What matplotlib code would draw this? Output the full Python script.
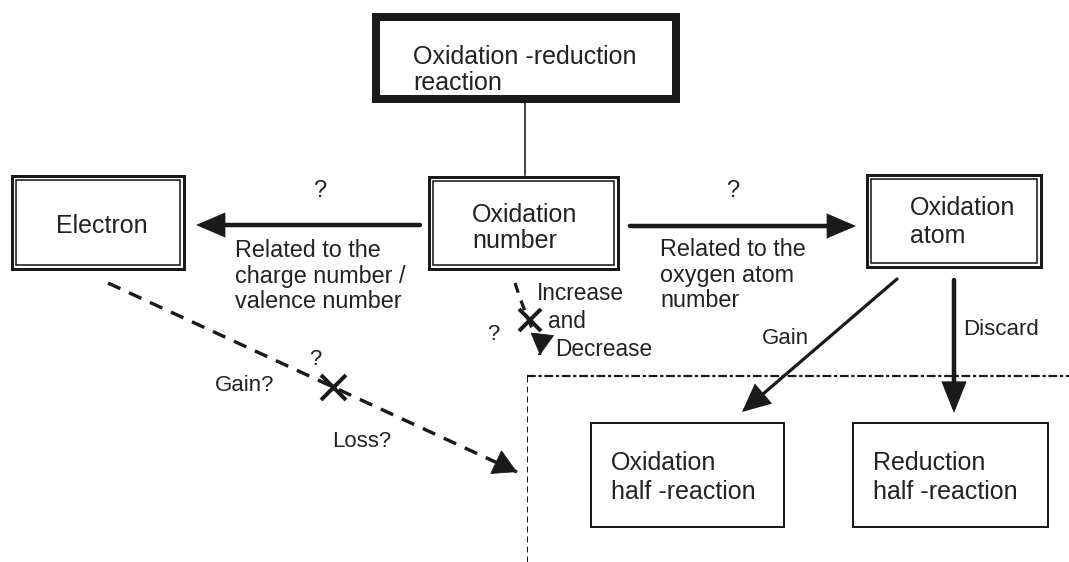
import matplotlib
matplotlib.use('Agg')
import matplotlib.pyplot as plt
from matplotlib.patches import Rectangle, FancyArrowPatch, PathPatch
from matplotlib.path import Path

# ---- content ----
top_label = ["Oxidation -reduction", "reaction"]
center_label = ["Oxidation", "number"]
left_label = ["Electron"]
right_label = ["Oxidation", "atom"]
ox_half_label = ["Oxidation", "half -reaction"]
red_half_label = ["Reduction", "half -reaction"]
left_edge_label = ["Related to the", "charge number /", "valence number"]
right_edge_label = ["Related to the", "oxygen atom", "number"]
change_label = ["Increase", "and", "Decrease"]
gain_q, loss_q = "Gain?", "Loss?"
question = "?"
gain_label = "Gain"
discard_label = "Discard"

W, H = 1069, 562
PX = 0.72  # points per pixel at dpi 100
FONT = "Liberation Sans"
INK = '#1a1a1a'

fig = plt.figure(figsize=(W / 100, H / 100), dpi=100)
ax = fig.add_axes([0, 0, 1, 1])
ax.set_xlim(0, W)
ax.set_ylim(H, 0)
ax.axis('off')


def txt(x, y, s, size=18, ha='left'):
    ax.text(x, y, s, fontsize=size, family=FONT, color='#222222', ha=ha, va='baseline')


def lines(x, ys, labels, size=18, ha='left'):
    for y, s in zip(ys, labels):
        txt(x, y, s, size, ha)


def rect(x0, y0, x1, y1, lw_px, inset):
    ax.add_patch(Rectangle((x0 + inset, y0 + inset), x1 - x0 - 2 * inset, y1 - y0 - 2 * inset,
                           fill=False, lw=lw_px * PX, ec=INK, joinstyle='miter'))


def double_box(x0, y0, x1, y1):
    rect(x0, y0, x1, y1, 3.0, 1.5)
    rect(x0, y0, x1, y1, 1.6, 5.5)


def arrow(p0, p1, lw_px, hl=1.0, hw=0.5, ms=20):
    a = FancyArrowPatch(p0, p1, arrowstyle=f'-|>,head_length={hl},head_width={hw}',
                        mutation_scale=ms, lw=lw_px * PX, color=INK,
                        shrinkA=0, shrinkB=0, joinstyle='miter')
    ax.add_patch(a)


def dashed_arrow(pts, lw_px, dash, head_from, hl, hw, ms):
    ax.plot([p[0] for p in pts], [p[1] for p in pts], color=INK, lw=lw_px * PX,
            linestyle=(0, dash), solid_capstyle='butt', dash_capstyle='butt')
    arrow(head_from, pts[-1], 0.8, hl=hl, hw=hw, ms=ms)


# top box
rect(372, 13, 680, 103, 8, 4)
lines(413, [64, 90], top_label)
# connector
ax.plot([525, 525], [103, 175], color=INK, lw=1.6 * PX)

# double boxes
double_box(10, 174, 185, 270)
txt(102, 233, left_label[0], ha='center')
double_box(427, 175, 619, 270)
lines(472, [222, 248], center_label)
double_box(865, 173, 1042, 268)
lines(910, [215, 243], right_label)

# horizontal arrows
arrow((420, 225), (196, 225), 4.5, hl=0.7, hw=0.3, ms=22)
arrow((630, 226), (856, 226), 4.5, hl=0.7, hw=0.3, ms=22)
txt(320, 197, question, 17, 'center')
txt(733, 197, question, 17, 'center')
lines(235, [257, 283, 308], left_edge_label, 16.8)
lines(660, [256, 282, 307], right_edge_label, 16.8)

# Gain / Discard arrows
arrow((897, 279), (742, 412), 3.2, hl=0.75, hw=0.35, ms=22)
arrow((954, 280), (954, 413), 4.5, hl=0.7, hw=0.28, ms=24)
txt(762, 344, gain_label, 16)
txt(963, 335, discard_label, 16)

# dashed frame
ax.plot([527, W], [376, 376], color=INK, lw=2.2 * PX, linestyle=(0, (4, 1.2, 1.5, 1.2)))
ax.plot([527, 527], [376, H], color=INK, lw=1.0 * PX, linestyle=(0, (6, 4)))

# half-reaction boxes
rect(591, 423, 784, 527, 2.0, 0)
lines(611, [470, 499], ox_half_label)
rect(853, 423, 1048, 527, 2.0, 0)
lines(873, [470, 499], red_half_label)

# dashed diagonal from Electron
dashed_arrow([(108, 283), (517, 472)], 3.4, (4, 2.8), (500, 464), 0.8, 0.45, 20)
ax.plot([333], [387], marker='x', ms=18, mew=4.0 * PX, color=INK)
txt(215, 391, gain_q, 16)
txt(315, 365, question, 16, 'center')
txt(332, 447, loss_q, 16)

# curved dashed arrow under oxidation number
curve = [(515, 283), (519, 295), (523, 306), (527, 316), (531, 326), (535, 337), (538, 346), (540, 355)]
dashed_arrow(curve, 3.2, (3.2, 2.6), (541, 346), 0.8, 0.45, 18)
ax.plot([530], [320], marker='x', ms=16, mew=4.0 * PX, color=INK)
txt(493, 340, question, 16, 'center')
txt(537, 300, change_label[0], 16.3)
txt(548, 328, change_label[1], 16.3)
txt(555, 356, change_label[2], 16.3)

fig.savefig('out.png', dpi=100, facecolor='white')
